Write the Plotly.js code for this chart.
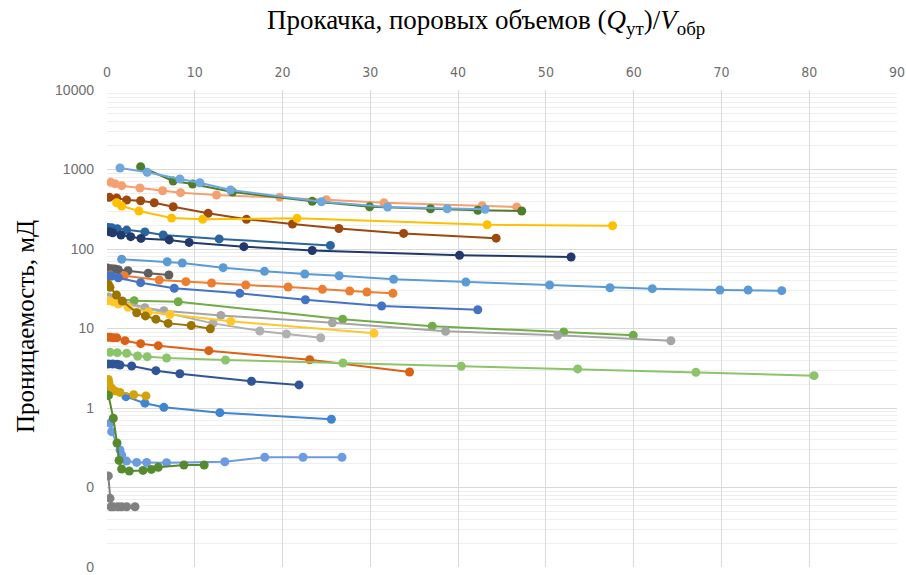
<!DOCTYPE html>
<html>
<head>
<meta charset="utf-8">
<script src="https://cdn.plot.ly/plotly-3.0.1.min.js"></script>
<style>
  html, body { margin: 0; padding: 0; background: #ffffff; }
  #chart { width: 906px; height: 575px; }
</style>
</head>
<body>
<div id="chart"></div>
<script>
// Pore volumes pumped (x) and permeability, mD (y) for each core sample
const pv01 = [1.48, 4.58, 8.3, 10.58, 14.07, 24.43, 31.97, 38.76, 43.08];
const k01  = [1045, 922, 760, 682, 552, 393, 337, 321, 316];

const pv02 = [3.83, 7.54, 9.75, 14.3, 23.38, 29.92, 36.86, 42.24, 47.25];
const k02  = [1084, 716, 657, 521, 398, 340, 321, 307, 301];

const pv03 = [0.42, 0.91, 1.67, 3.75, 6.34, 8.38, 12.48, 19.68, 24.99, 31.55, 42.74, 46.68];
const k03  = [690, 663, 626, 585, 541, 511, 478, 447, 417, 382, 351, 337];

const pv04 = [0.26, 1.1, 2.24, 3.83, 5.38, 7.54, 11.52, 15.89, 21.13, 26.42, 33.79, 44.33];
const k04  = [447, 438, 413, 405, 382, 340, 281, 236, 206, 181, 157, 137];

const pv05 = [1.1, 1.67, 3.64, 7.36, 10.89, 21.65, 43.31, 57.6];
const k05  = [382, 347, 301, 245, 236, 243, 202, 196];

const pv06 = [0.15, 0.53, 1.17, 2.24, 4.32, 6.4, 12.78, 25.45];
const k06  = [187, 185, 180, 173, 164, 150, 134, 111];

const pv07 = [0.26, 0.65, 1.59, 2.7, 3.87, 7.09, 9.36, 15.59, 23.38, 40.16, 52.87];
const k07  = [165, 160, 150, 143, 136, 130, 121, 107, 95.8, 83.4, 79.3];

const pv08 = [1.67, 6.86, 8.57, 13.23, 17.94, 22.53, 26.45, 32.65, 40.88, 50.43, 57.3, 62.12, 69.82, 73.04, 76.87];
const k08  = [74.2, 69.2, 66.7, 58.2, 52.4, 48.5, 46.1, 41.6, 38.5, 35.2, 32.6, 31.7, 30.5, 30.5, 29.9];

const pv09 = [0.05, 0.53, 0.91, 1.29, 2.39, 4.7, 7.05];
const k09  = [57.7, 56.5, 56.0, 54.9, 53.3, 49.5, 47.1];

const pv10 = [0.34, 1.97, 5.95, 8.99, 11.91, 15.81, 20.63, 24.54, 27.65, 29.61, 32.57];
const k10  = [47.1, 46.1, 40.7, 38.8, 37.4, 35.2, 33.3, 31.1, 29.6, 28.8, 27.7];

const pv11 = [0.26, 0.53, 1.29, 3.83, 7.66, 15.13, 22.6, 31.29, 42.24];
const k11  = [46.1, 45.7, 43.5, 37.7, 32.1, 27.7, 23.0, 19.2, 17.2];

const pv12 = [0.15, 3.1, 8.11, 26.85, 37.05, 52.03, 59.95];
const k12  = [24.0, 22.4, 21.7, 13.1, 10.7, 9.04, 8.21];

const pv13 = [0.17, 4.32, 6.48, 12.97, 25.68, 38.57, 51.34, 64.24];
const k13  = [24.9, 18.3, 16.7, 14.6, 11.8, 9.22, 8.21, 7.02];

const pv14 = [0.17, 12.09, 17.41, 20.44, 24.35];
const k14  = [22.8, 11.6, 9.31, 8.53, 7.66];

const pv15 = [0.15, 0.34, 1.08, 1.74, 3.38, 4.38, 5.57, 6.97, 9.59, 11.77];
const k15  = [36.0, 33.0, 26.4, 22.2, 15.8, 14.4, 13.1, 11.6, 10.9, 9.94];

const pv16 = [0.15, 0.72, 1.29, 2.42, 4.7, 7.17, 14.11, 30.41];
const k16  = [22.4, 21.6, 20.3, 18.5, 16.1, 15.0, 12.3, 8.7];

const pv17 = [0.0, 0.34, 0.72, 1.1, 2.05, 3.83, 5.84, 11.6, 23.09, 34.47];
const k17  = [7.75, 7.75, 7.66, 7.66, 7.03, 6.44, 6.08, 5.26, 4.05, 2.84];

const pv18 = [0.34, 1.17, 2.24, 3.49, 4.58, 6.79, 13.5, 26.88, 40.35, 53.62, 67.09, 80.55];
const k18  = [5.02, 4.97, 4.88, 4.51, 4.42, 4.25, 4.02, 3.68, 3.35, 3.10, 2.81, 2.55];

const pv19 = [0.15, 0.65, 1.17, 1.48, 2.81, 5.57, 8.3, 16.46, 21.88];
const k19  = [3.58, 3.58, 3.55, 3.47, 3.38, 2.95, 2.70, 2.17, 1.95];

const pv20 = [0.15, 0.23, 0.53, 0.91, 1.48, 3.04, 4.44];
const k20  = [2.28, 2.06, 1.77, 1.64, 1.57, 1.47, 1.42];

const pv21 = [0.15, 2.16, 4.32, 6.48, 12.86, 25.56];
const k21  = [1.72, 1.39, 1.15, 1.02, 0.873, 0.721];

const pv22 = [0.17, 0.72, 1.14, 1.37, 1.67, 2.54, 4.1, 5.06, 5.84, 8.76, 11.07];
const k22  = [1.44, 0.742, 0.363, 0.219, 0.171, 0.161, 0.164, 0.169, 0.180, 0.192, 0.192];

const pv23 = [0.34, 0.53, 1.48, 1.67, 2.22, 3.38, 4.52, 6.79, 13.42, 17.97, 22.33, 26.77];
const k23  = [0.643, 0.504, 0.296, 0.256, 0.215, 0.207, 0.207, 0.205, 0.211, 0.240, 0.240, 0.240];

const pv24 = [0.15, 0.34, 0.46, 0.72, 1.25, 1.67, 2.24, 3.19];
const k24  = [0.140, 0.0731, 0.0573, 0.0573, 0.0573, 0.0573, 0.0573, 0.0573];

// Axis tick values and their printed labels (values below 1 print as "0")
const yTickVals = [0.01, 0.1, 1, 10, 100, 1000, 10000];
const yTickText = ["0", "0", "1", "10", "100", "1000", "10000"];
const xTickVals = [0, 10, 20, 30, 40, 50, 60, 70, 80, 90];

const series = [
  [pv03, k03, "#F4A070"],
  [pv02, k02, "#4E7D2C"],
  [pv01, k01, "#6FA8DC"],
  [pv04, k04, "#9E480E"],
  [pv05, k05, "#FFC000"],
  [pv06, k06, "#2A659E"],
  [pv07, k07, "#22396B"],
  [pv08, k08, "#5B9BD5"],
  [pv09, k09, "#5F5F5F"],
  [pv10, k10, "#ED7D31"],
  [pv11, k11, "#4472C4"],
  [pv12, k12, "#70AD47"],
  [pv13, k13, "#A5A5A5"],
  [pv14, k14, "#B0B0B0"],
  [pv16, k16, "#FFC72C"],
  [pv15, k15, "#9C7400"],
  [pv17, k17, "#DB6115"],
  [pv18, k18, "#8CC46A"],
  [pv19, k19, "#2F5597"],
  [pv21, k21, "#3F85D2"],
  [pv20, k20, "#D4A20A"],
  [pv23, k23, "#6B9BE0"],
  [pv22, k22, "#568A2E"],
  [pv24, k24, "#808080"]
];

const traces = series.map(([xs, ys, color]) => ({
  x: xs,
  y: ys,
  type: "scatter",
  mode: "lines+markers",
  line: { color: color, width: 2 },
  marker: { color: color, size: 9 },
  hoverinfo: "x+y",
  showlegend: false
}));

const xTickFont = { family: "Liberation Sans Narrow, DejaVu Sans Condensed, Liberation Sans, sans-serif", size: 14, color: "#6E6E6E" };
const yTickFont = { family: "Liberation Sans, DejaVu Sans, sans-serif", size: 14, color: "#6E6E6E" };
const xTitleFont = { family: "Liberation Serif, Times New Roman, serif", size: 27, color: "#000000" };
const yTitleFont = { family: "Liberation Serif, Times New Roman, serif", size: 25, color: "#000000" };

const layout = {
  width: 906,
  height: 575,
  margin: { l: 107, r: 9, t: 90, b: 8 },
  paper_bgcolor: "#ffffff",
  plot_bgcolor: "#ffffff",
  showlegend: false,
  xaxis: {
    side: "top",
    range: [0, 90],
    tickvals: xTickVals,
    ticktext: xTickVals.map(String),
    showgrid: true,
    gridcolor: "#D9D9D9",
    gridwidth: 1,
    zeroline: false,
    showline: false,
    ticks: "",
    ticklabelstandoff: 9,
    ticklabeloverflow: "allow",
    tickfont: xTickFont
  },
  yaxis: {
    type: "log",
    range: [-2, 4],
    tickvals: yTickVals,
    ticktext: yTickText,
    showgrid: true,
    gridcolor: "#D9D9D9",
    gridwidth: 1,
    minor: { showgrid: true, gridcolor: "#EEEEEE", dtick: "D1" },
    zeroline: false,
    showline: false,
    ticks: "",
    ticklabelstandoff: 12,
    ticklabeloverflow: "allow",
    tickfont: yTickFont
  },
  annotations: [
    {
      text: "Прокачка, поровых объемов (<i>Q</i><sub>ут</sub>)/<i>V</i><sub>обр</sub>",
      xref: "paper", yref: "paper",
      x: (486 - 107) / 790, y: 1 + (90 - 22) / 477,
      xanchor: "center", yanchor: "middle",
      showarrow: false,
      font: xTitleFont
    },
    {
      text: "Проницаемость, мД",
      xref: "paper", yref: "paper",
      x: (25 - 107) / 790, y: 1 - (327 - 90) / 477,
      xanchor: "center", yanchor: "middle",
      textangle: -90,
      showarrow: false,
      font: yTitleFont
    }
  ]
};

Plotly.newPlot("chart", traces, layout, { displayModeBar: false, staticPlot: true });
</script>
</body>
</html>
